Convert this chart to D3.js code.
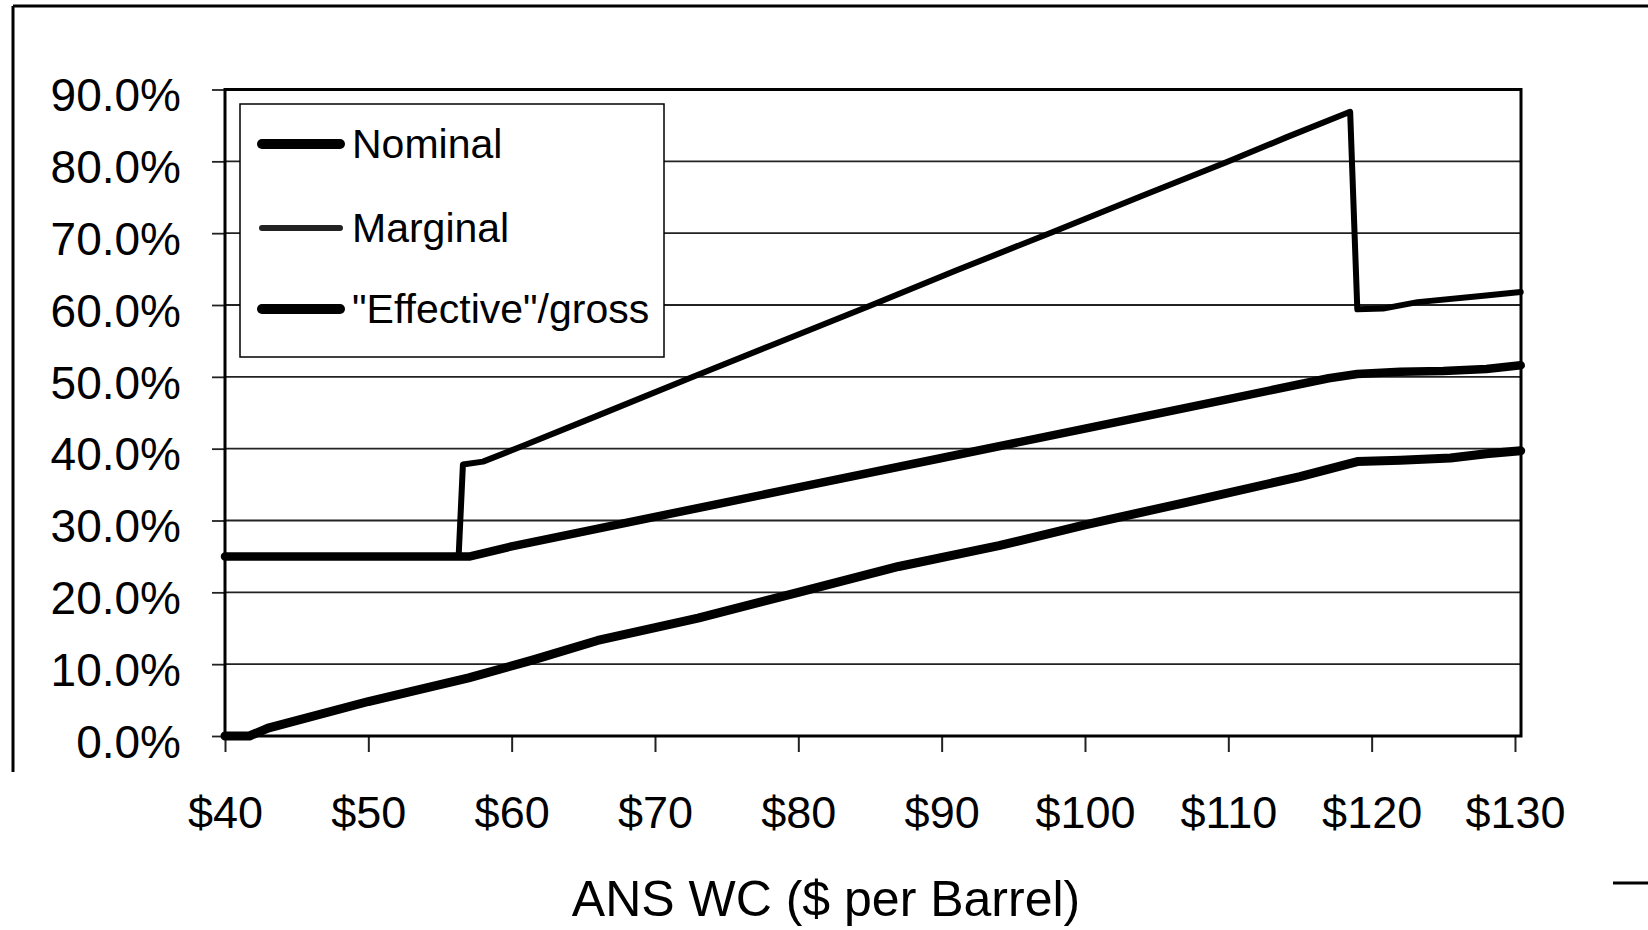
<!DOCTYPE html>
<html>
<head>
<meta charset="utf-8">
<script src="https://cdn.jsdelivr.net/npm/d3@7"></script>
<style>
  body { margin: 0; background: #fff; }
  svg { display: block; }
  text { font-family: "Liberation Sans", Arial, sans-serif; fill: #000; }
</style>
</head>
<body>
<div id="chart"></div>
<script>
// values (price in $/bbl, rate in %)
var yTicks = [0, 10, 20, 30, 40, 50, 60, 70, 80, 90];
var xTicks = [40, 50, 60, 70, 80, 90, 100, 110, 120, 130];

var nominalPrice = [40, 57.1, 60, 70, 80, 90, 100, 110, 117, 119, 122, 125, 128, 130.4];
var nominalRate  = [25, 25, 26.4, 30.5, 34.6, 38.7, 42.8, 46.9, 49.8, 50.4, 50.7, 50.8, 51.1, 51.6];

var marginalPrice = [40, 56.3, 56.6, 58, 60.8, 66, 72.4, 78, 85, 91, 97.8, 104, 109.9, 114, 118.5, 119, 120.8, 123.2, 127.8, 130.4];
var marginalRate  = [25, 25, 37.8, 38.2, 40.4, 44.6, 49.8, 54.3, 59.9, 64.8, 70.2, 75.2, 79.9, 83.3, 86.9, 59.4, 59.5, 60.4, 61.3, 61.8];

var effectivePrice = [40, 41.7, 43, 50, 57, 61.5, 66, 73, 80, 87, 94, 100, 107, 115, 119, 122, 125.5, 128, 130.4];
var effectiveRate  = [0, 0, 1.1, 4.8, 8.1, 10.6, 13.3, 16.4, 20.0, 23.6, 26.5, 29.4, 32.5, 36.1, 38.2, 38.4, 38.7, 39.3, 39.7];

var legendNames = ["Nominal", "Marginal", "\"Effective\"/gross"];

var width = 1648, height = 930;
var plotLeft = 225, plotRight = 1521, plotTop = 89.5, plotBottom = 736;

var svg = d3.select("#chart")
  .append("svg")
  .attr("width", width)
  .attr("height", height);

var x = d3.scaleLinear().domain([40, 130.42]).range([plotLeft, plotRight]);
var y = d3.scaleLinear().domain([0, 90]).range([plotBottom, plotTop]);

//outer frame (partly cut off in the scan)
svg.append("line").attr("x1", 13).attr("x2", width).attr("y1", 6).attr("y2", 6)
  .attr("stroke", "#000").attr("stroke-width", 3);
svg.append("line").attr("x1", 13).attr("x2", 13).attr("y1", 6).attr("y2", 772)
  .attr("stroke", "#000").attr("stroke-width", 3);
svg.append("line").attr("x1", 1613).attr("x2", width).attr("y1", 883).attr("y2", 883)
  .attr("stroke", "#000").attr("stroke-width", 3);

//gridlines
svg.append("g")
  .selectAll("line")
  .data(yTicks)
  .enter().append("line")
  .attr("x1", plotLeft).attr("x2", plotRight)
  .attr("y1", d => y(d)).attr("y2", d => y(d))
  .attr("stroke", "#222")
  .attr("stroke-width", 1.8);

//y axis
var yAxis = svg.append("g")
  .attr("transform", "translate(" + plotLeft + ",0)")
  .call(d3.axisLeft(y).tickValues(yTicks).tickSize(13).tickPadding(31)
    .tickFormat(d => d.toFixed(1) + "%"));
yAxis.select(".domain").remove();
yAxis.selectAll(".tick line").attr("stroke", "#222").attr("stroke-width", 1.8);
yAxis.selectAll("text")
  .attr("dy", "0.46em")
  .style("font-size", "46px");

//x axis
var xAxis = svg.append("g")
  .attr("transform", "translate(0," + plotBottom + ")")
  .call(d3.axisBottom(x).tickValues(xTicks).tickSize(16).tickPadding(0)
    .tickFormat(d => "$" + d));
xAxis.select(".domain").remove();
xAxis.selectAll(".tick line").attr("stroke", "#222").attr("stroke-width", 2);
xAxis.selectAll("text")
  .attr("y", 92)
  .attr("dy", 0)
  .style("font-size", "45px");

//plot border
svg.append("rect")
  .attr("x", plotLeft).attr("y", plotTop)
  .attr("width", plotRight - plotLeft).attr("height", plotBottom - plotTop)
  .attr("fill", "none")
  .attr("stroke", "#000")
  .attr("stroke-width", 3);

//axis title
svg.append("text")
  .attr("x", 826)
  .attr("y", 916)
  .attr("text-anchor", "middle")
  .style("font-size", "50px")
  .text("ANS WC ($ per Barrel)");

//series lines
var line = d3.line()
  .x(d => x(d[0]))
  .y(d => y(d[1]));

function pairs(px, py) {
  return px.map((p, i) => [p, py[i]]);
}

var series = [
  { name: legendNames[2], data: pairs(effectivePrice, effectiveRate), w: 9 },
  { name: legendNames[0], data: pairs(nominalPrice, nominalRate), w: 8.5 },
  { name: legendNames[1], data: pairs(marginalPrice, marginalRate), w: 6 }
];

svg.append("g")
  .selectAll("path")
  .data(series)
  .enter().append("path")
  .attr("d", d => line(d.data))
  .attr("fill", "none")
  .attr("stroke", "#000")
  .attr("stroke-width", d => d.w)
  .attr("stroke-linejoin", "round")
  .attr("stroke-linecap", "round");

//legend
var legend = svg.append("g");
legend.append("rect")
  .attr("x", 240).attr("y", 104)
  .attr("width", 424).attr("height", 253)
  .attr("fill", "#fff")
  .attr("stroke", "#000")
  .attr("stroke-width", 1.5);

var legendRows = [144, 228, 309];
var legendW = [10, 6, 10];

legend.selectAll(".lgline")
  .data(legendNames)
  .enter().append("line")
  .attr("class", "lgline")
  .attr("x1", 262).attr("x2", 340)
  .attr("y1", (d, i) => legendRows[i]).attr("y2", (d, i) => legendRows[i])
  .attr("stroke", (d, i) => i == 1 ? "#222" : "#000")
  .attr("stroke-width", (d, i) => legendW[i])
  .attr("stroke-linecap", "round");

legend.selectAll(".lgtext")
  .data(legendNames)
  .enter().append("text")
  .attr("class", "lgtext")
  .attr("x", 352)
  .attr("y", (d, i) => legendRows[i] + 14)
  .style("font-size", "41px")
  .text(d => d);
</script>
</body>
</html>
